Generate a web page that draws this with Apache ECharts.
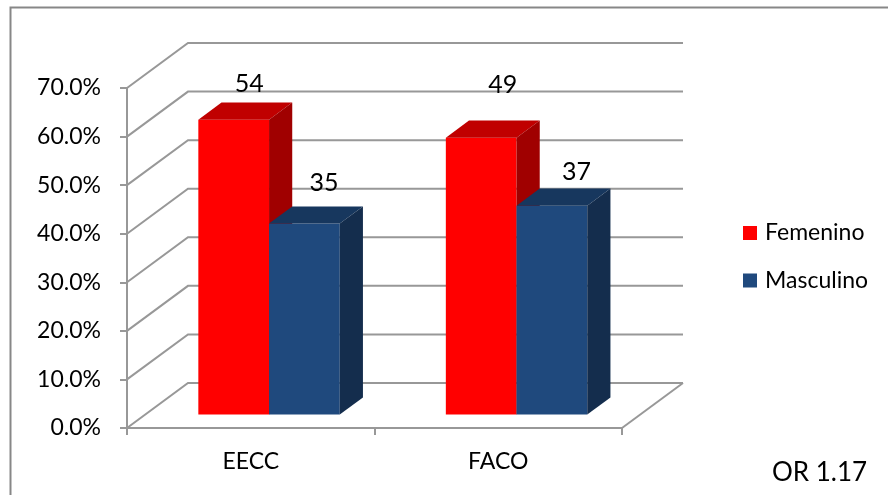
<!DOCTYPE html>
<html>
<head>
<meta charset="utf-8">
<title>EECC / FACO por sexo</title>
<script src="https://cdn.jsdelivr.net/npm/echarts@6/dist/echarts.min.js"></script>
<style>
  html, body { margin: 0; padding: 0; background: #ffffff; }
  #chart { width: 888px; height: 495px; }
</style>
</head>
<body>
<div id="chart"></div>
<script>
// ---- data ----
const categories = ['EECC', 'FACO'];
const femeninoPct = [60.7, 57.0];
const masculinoPct = [39.3, 43.0];
const femeninoN = [54, 49];
const masculinoN = [35, 37];
const yTicks = [0, 10, 20, 30, 40, 50, 60, 70];
const noteText = 'OR 1.17';

// ---- style ----
const FONT = 'Lato';
const GRID_COLOR = '#989898';
// full depth of the 3D box in pixels (oblique projection)
const DEPTH_X = 61, DEPTH_Y = -45;
// bars sit between these fractions of the depth
const BAR_FRONT = 0.3, BAR_BACK = 0.68;
// gap width 150% -> band holds 2 bars + 1.5 bar widths of gap
const BAR_FRACTION = 1 / 3.5;
const palette = {
  Femenino: { front: '#FF0000', top: '#C00000', side: '#A00000' },
  Masculino: { front: '#1F497D', top: '#17375E', side: '#142D4D' }
};
// fine placement of the count labels above each bar top
const labelNudge = {
  Femenino: [[4, -27], [10, -44]],
  Masculino: [[8, -32], [13, -25]]
};

function renderWall(params, api) {
  const v = api.value(1);
  const band = api.size([1, 0])[0];
  const L = api.coord([0, v]);
  const R = api.coord([categories.length - 1, v]);
  const xl = L[0] - band / 2, xr = R[0] + band / 2, y = L[1];
  const style = { stroke: GRID_COLOR, lineWidth: 2, fill: null };
  const children = [{
    type: 'polyline',
    shape: { points: [[xl, y], [xl + DEPTH_X, y + DEPTH_Y], [xr + DEPTH_X, y + DEPTH_Y]] },
    style: style
  }];
  if (v === 0) {
    children.push({
      type: 'line',
      shape: { x1: xr, y1: y, x2: xr + DEPTH_X, y2: y + DEPTH_Y },
      style: style
    });
  }
  return { type: 'group', children: children };
}

function makeBarRenderer(name, slot) {
  const col = palette[name];
  return function (params, api) {
    const ci = api.value(0);
    const v = api.value(1);
    const n = api.value(2);
    const base = api.coord([ci, 0]);
    const top = api.coord([ci, v]);
    const band = api.size([1, 0])[0];
    const bw = band * BAR_FRACTION;
    const x0 = base[0] - bw + slot * bw;
    const fx = x0 + BAR_FRONT * DEPTH_X;
    const fyBase = base[1] + BAR_FRONT * DEPTH_Y;
    const fyTop = top[1] + BAR_FRONT * DEPTH_Y;
    const ddx = (BAR_BACK - BAR_FRONT) * DEPTH_X;
    const ddy = (BAR_BACK - BAR_FRONT) * DEPTH_Y;
    const nudge = labelNudge[name][params.dataIndex];
    return {
      type: 'group',
      children: [
        { type: 'rect', shape: { x: fx, y: fyTop, width: bw, height: fyBase - fyTop },
          style: { fill: col.front } },
        { type: 'polygon', shape: { points: [[fx, fyTop], [fx + bw, fyTop], [fx + bw + ddx, fyTop + ddy], [fx + ddx, fyTop + ddy]] },
          style: { fill: col.top } },
        { type: 'polygon', shape: { points: [[fx + bw, fyTop], [fx + bw + ddx, fyTop + ddy], [fx + bw + ddx, fyBase + ddy], [fx + bw, fyBase]] },
          style: { fill: col.side } },
        { type: 'text',
          x: fx + bw / 2 + ddx / 2 + nudge[0],
          y: fyTop + ddy / 2 + nudge[1],
          style: { text: String(n), fill: '#000', fontSize: 25, fontFamily: FONT,
                   align: 'center', verticalAlign: 'middle' } }
      ]
    };
  };
}

const chart = echarts.init(document.getElementById('chart'), null, { renderer: 'canvas' });
chart.setOption({
  animation: false,
  backgroundColor: '#ffffff',
  textStyle: { fontFamily: FONT },
  grid: { left: 127, right: 266, top: 88, bottom: 67 },
  xAxis: {
    type: 'category',
    data: categories,
    axisLine: { show: true, lineStyle: { color: GRID_COLOR, width: 2 } },
    axisTick: { show: true, length: 7, lineStyle: { color: GRID_COLOR, width: 2 } },
    axisLabel: { color: '#000', fontSize: 23, fontFamily: FONT, margin: 22 },
    splitLine: { show: false }
  },
  yAxis: {
    type: 'value',
    min: 0, max: 70, interval: 10,
    axisLine: { show: true, lineStyle: { color: GRID_COLOR, width: 2 } },
    axisTick: { show: true, length: 7, lineStyle: { color: GRID_COLOR, width: 2 } },
    axisLabel: { color: '#000', fontSize: 23, fontFamily: FONT, margin: 26,
                 padding: [6, 0, 0, 0],
                 formatter: function (v) { return v.toFixed(1) + '%'; } },
    splitLine: { show: false }
  },
  legend: {
    orient: 'vertical',
    left: 738, top: 216,
    itemWidth: 14, itemHeight: 14, itemGap: 23.5,
    icon: 'rect',
    textStyle: { color: '#000', fontSize: 23, fontFamily: FONT, lineHeight: 24, padding: [0, 0, 0, 3] },
    data: ['Femenino', 'Masculino']
  },
  graphic: [
    { type: 'rect', left: 8, top: 5, silent: true,
      shape: { x: 0, y: 0, width: 900, height: 520 },
      style: { fill: null, stroke: '#878787', lineWidth: 2 } },
    { type: 'text', left: 772, top: 460, silent: true,
      style: { text: noteText, fill: '#000', fontSize: 26, fontFamily: FONT } }
  ],
  series: [
    {
      name: 'wall', type: 'custom', silent: true, z: 1,
      renderItem: renderWall,
      encode: { x: 0, y: 1 },
      data: yTicks.map(function (t) { return [0, t]; })
    },
    {
      name: 'Femenino', type: 'custom', z: 2,
      itemStyle: { color: palette.Femenino.front },
      renderItem: makeBarRenderer('Femenino', 0),
      encode: { x: 0, y: 1 },
      data: categories.map(function (c, i) { return [i, femeninoPct[i], femeninoN[i]]; })
    },
    {
      name: 'Masculino', type: 'custom', z: 3,
      itemStyle: { color: palette.Masculino.front },
      renderItem: makeBarRenderer('Masculino', 1),
      encode: { x: 0, y: 1 },
      data: categories.map(function (c, i) { return [i, masculinoPct[i], masculinoN[i]]; })
    }
  ]
});
</script>
</body>
</html>
